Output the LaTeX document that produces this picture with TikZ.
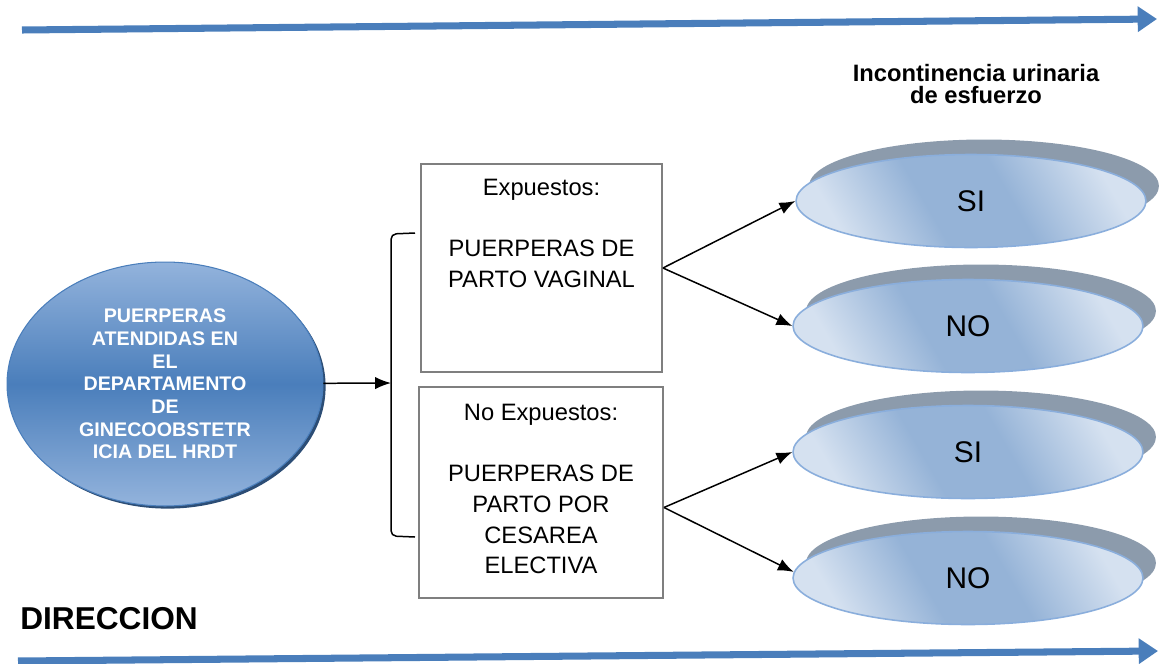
\documentclass[tikz,border=0pt]{standalone}
\usepackage{fontspec}
\setmainfont{Liberation Sans}
\usepackage{xcolor}
\usetikzlibrary{shapes.geometric,shadows,arrows.meta,positioning}

\definecolor{azulflecha}{HTML}{4A7EBB}
\definecolor{grisborde}{HTML}{7F7F7F}
\definecolor{azulclaro}{HTML}{D5E1F0}
\definecolor{azulmedio}{HTML}{95B3D7}
\definecolor{azulborde}{HTML}{8AAEDC}
\definecolor{grissombra}{HTML}{8C9BAC}
\definecolor{azulprincipal}{HTML}{4A7EBB}
\definecolor{azulprincipalclaro}{HTML}{93B3DC}
\definecolor{azuloscuro}{HTML}{2C4D75}

\pgfdeclarehorizontalshading{bandaazul}{100bp}{color(0bp)=(azulclaro); color(25bp)=(azulclaro);
  color(42bp)=(azulmedio); color(57bp)=(azulmedio); color(75bp)=(azulclaro); color(100bp)=(azulclaro)}

\tikzset{
  flechaazul/.style={azulflecha, line width=4pt, -{Triangle[length=11pt,width=14pt]}},
  flechanegra/.style={black, line width=0.85pt, -{Latex[length=9pt,width=7pt]}},
  caja/.style={draw=grisborde, line width=1.1pt, inner sep=0pt},
  textocaja/.style={inner sep=0pt, align=center, font=\fontsize{13.5}{17.5}\selectfont},
  respuesta/.style={ellipse, draw=azulborde, line width=0.9pt, inner sep=0pt,
    minimum width=7cm, minimum height=1.86cm,
    shading=bandaazul, shading angle=30,
    drop shadow={shadow xshift=0.26cm, shadow yshift=0.3cm, fill=grissombra, opacity=1},
    font=\fontsize{17}{20}\selectfont},
  poblacion/.style={ellipse, draw=azulprincipal, line width=0.6pt, inner sep=0pt,
    minimum width=6.32cm, minimum height=4.88cm,
    top color=azulprincipalclaro, bottom color=azulprincipalclaro, middle color=azulprincipal,
    drop shadow={shadow xshift=1.5pt, shadow yshift=-1.5pt, fill=azuloscuro, opacity=1},
    text=white, align=center, font=\bfseries\fontsize{11.2}{12.9}\selectfont}
}

\begin{document}
\begin{tikzpicture}[x=0.02cm,y=-0.02cm]
\useasboundingbox (0,0) rectangle (1159,663);

\coordinate (supini) at (22,30);
\coordinate (supfin) at (1157,19);
\draw [flechaazul] (supini) -- (supfin);

\coordinate (infini) at (18,661);
\coordinate (inffin) at (1158,651);
\draw [flechaazul] (infini) -- (inffin);

\node [font=\bfseries\fontsize{13.5}{13}\selectfont, align=center] (titulo) at (976,84) {Incontinencia urinaria\\de esfuerzo};
\node [font=\bfseries\fontsize{18}{20}\selectfont, anchor=west, inner sep=0pt] (direccion) at (20,619) {DIRECCION};

\node [poblacion] (principal) at (165,384) {PUERPERAS\\ATENDIDAS EN\\EL\\DEPARTAMENTO\\DE\\GINECOOBSTETR\\ICIA DEL HRDT};

\coordinate (llavemedio) at (391,383);
\coordinate (llavesup) at (415,233);
\coordinate (llaveinf) at (415,537);
\draw [flechanegra] (principal) -- (llavemedio);
\draw [line width=0.85pt, rounded corners=3pt] (llavesup) -- (391,234) -- (391,536) -- (llaveinf);

\node [caja, minimum width=4.82cm, minimum height=4.16cm] (expuestos) at (541.5,268) {};
\node [textocaja, below=0.31cm of expuestos.north] (expuestostxt) {Expuestos:\\[17.5pt]PUERPERAS DE\\PARTO VAGINAL};

\node [caja, minimum width=4.88cm, minimum height=4.22cm] (noexpuestos) at (541,492.5) {};
\node [textocaja, below=0.35cm of noexpuestos.north] (noexpuestostxt) {No Expuestos:\\[17.5pt]PUERPERAS DE\\PARTO POR\\CESAREA\\ELECTIVA};

\node [respuesta] (si1) at (971,201) {SI};
\node [respuesta] (no1) at (968,326) {NO};
\node [respuesta] (si2) at (968,452) {SI};
\node [respuesta] (no2) at (968,578) {NO};

\draw [flechanegra] (expuestos.east) -- (si1.west);
\draw [flechanegra] (expuestos.east) -- (no1.west);
\draw [flechanegra] ([yshift=-0.3cm]noexpuestos.east) -- (si2.west);
\draw [flechanegra] ([yshift=-0.3cm]noexpuestos.east) -- (no2.178);

\end{tikzpicture}
\end{document}
